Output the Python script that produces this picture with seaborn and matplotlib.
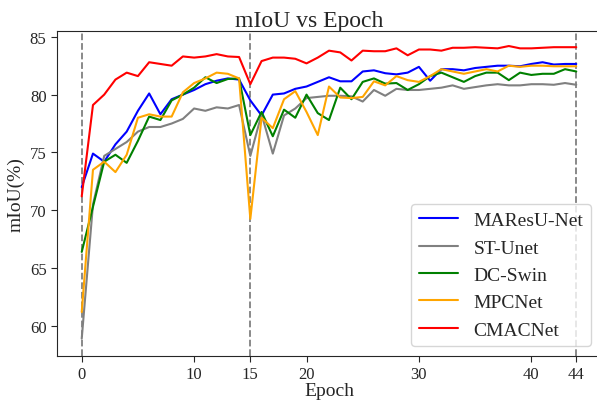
import matplotlib
matplotlib.use("Agg")
import matplotlib.pyplot as plt
import seaborn as sns
import pandas as pd

epochs = list(range(45))

maresu_net = [72.0, 74.9, 74.2, 75.7, 76.8, 78.6, 80.1, 78.3, 79.6, 80.0,
              80.4, 80.9, 81.2, 81.4, 81.3, 79.5, 78.2, 80.0, 80.1, 80.5,
              80.7, 81.1, 81.5, 81.15, 81.15, 82.0, 82.1, 81.85, 81.75, 81.9,
              82.4, 81.2, 82.2, 82.2, 82.1, 82.3, 82.4, 82.5, 82.5, 82.45,
              82.65, 82.8, 82.6, 82.65, 82.65]

st_unet = [58.9, 70.5, 74.7, 75.3, 75.9, 76.8, 77.2, 77.2, 77.5, 77.9,
           78.8, 78.6, 78.9, 78.8, 79.1, 74.7, 78.3, 74.9, 78.2, 78.8,
           79.7, 79.8, 79.9, 79.9, 79.85, 79.4, 80.4, 79.9, 80.5, 80.4,
           80.4, 80.5, 80.6, 80.8, 80.5, 80.65, 80.8, 80.9, 80.8, 80.8,
           80.9, 80.9, 80.85, 81.0, 80.85]

dc_swin = [66.4, 70.3, 74.2, 74.8, 74.1, 76.0, 78.1, 77.8, 79.5, 80.0,
           80.6, 81.5, 81.0, 81.35, 81.4, 76.5, 78.5, 76.4, 78.7, 78.0,
           80.0, 78.4, 77.8, 80.6, 79.6, 81.1, 81.4, 80.95, 81.0, 80.4,
           80.9, 81.6, 81.9, 81.5, 81.1, 81.6, 81.9, 81.9, 81.25, 81.9,
           81.7, 81.8, 81.8, 82.2, 82.0]

mpcnet = [61.2, 73.5, 74.2, 73.3, 74.8, 78.0, 78.3, 78.1, 78.1, 80.2,
          81.0, 81.4, 81.9, 81.8, 81.4, 69.25, 78.0, 77.1, 79.6, 80.3,
          78.5, 76.5, 80.7, 79.75, 79.7, 79.8, 81.15, 80.8, 81.6, 81.25,
          81.1, 81.6, 82.2, 82.0, 81.8, 82.0, 82.2, 82.0, 82.5, 82.4,
          82.5, 82.5, 82.45, 82.45, 82.45]

cmacnet = [71.2, 79.1, 80.0, 81.3, 81.9, 81.6, 82.8, 82.65, 82.5, 83.3,
           83.2, 83.3, 83.5, 83.3, 83.25, 80.9, 82.9, 83.2, 83.2, 83.1,
           82.7, 83.2, 83.8, 83.65, 82.95, 83.8, 83.75, 83.75, 84.0, 83.4,
           83.9, 83.9, 83.8, 84.05, 84.05, 84.1, 84.05, 84.0, 84.2, 84.0,
           84.0, 84.05, 84.1, 84.1, 84.1]

models = ["MAResU-Net", "ST-Unet", "DC-Swin", "MPCNet", "CMACNet"]
series = [maresu_net, st_unet, dc_swin, mpcnet, cmacnet]
colors = ["blue", "gray", "green", "orange", "red"]

stage_marks = [0, 15, 44]
x_ticks = [0, 10, 15, 20, 30, 40, 44]
y_ticks = [60, 65, 70, 75, 80, 85]

rows = []
for name, vals in zip(models, series):
    for e, v in zip(epochs, vals):
        rows.append({"Epoch": e, "mIoU": v, "Model": name})
df = pd.DataFrame(rows)

sns.set_style("ticks")
plt.rcParams["font.family"] = ["Liberation Serif", "DejaVu Serif"]

fig = plt.figure(figsize=(5.97, 4.02), dpi=100)
ax = fig.add_axes([57 / 597, 45 / 402, 544 / 597, 325 / 402])

# dashed markers at the training stage boundaries
for m in stage_marks:
    ax.axvline(m, color="gray", linestyle="--", linewidth=1.3, zorder=1)

sns.lineplot(data=df, x="Epoch", y="mIoU", hue="Model", hue_order=models,
             palette=colors, linewidth=1.5, ax=ax, zorder=2)

ax.set_xlim(-2.2, 46.2)
ax.set_ylim(57.4, 85.5)
ax.set_xticks(x_ticks)
ax.set_yticks(y_ticks)
ax.tick_params(axis="both", labelsize=12, direction="out", length=4, width=0.8)
ax.set_xlabel("Epoch", fontsize=14, labelpad=0)
ax.set_ylabel("mIoU(%)", fontsize=14)
ax.set_title("mIoU vs Epoch", fontsize=17, pad=3, x=0.463)

leg = ax.legend(loc="lower right", fontsize=14, frameon=True)
leg.get_frame().set_edgecolor("#cccccc")

fig.savefig("out.png", dpi=100)
